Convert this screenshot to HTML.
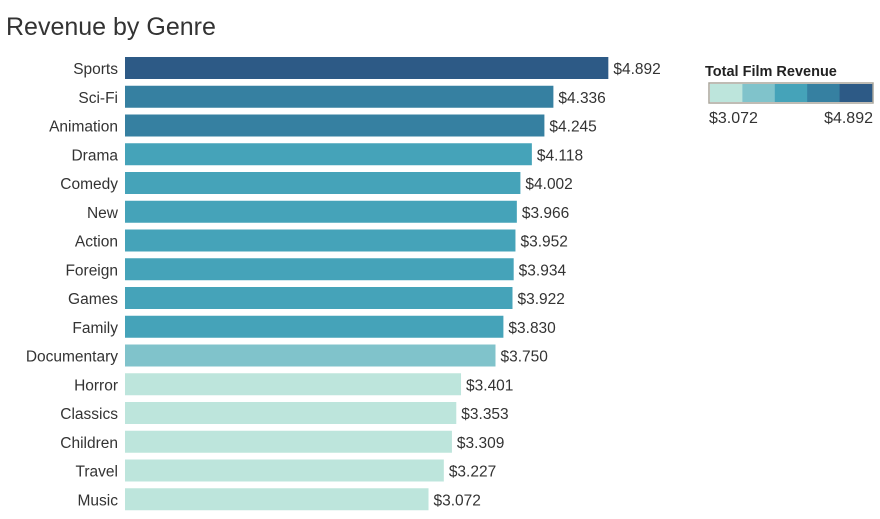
<!DOCTYPE html>
<html><head><meta charset="utf-8"><style>
body{margin:0;background:#fff;font-family:"Liberation Sans",sans-serif;}
svg text{font-family:"Liberation Sans",sans-serif;}
</style></head><body>
<svg id="c" width="880" height="514">
<text x="6" y="35" font-size="25" fill="#333">Revenue by Genre</text>
<g id="bars"></g>
<g id="legend">
<text x="705" y="76" font-size="14.5" font-weight="bold" fill="#222">Total Film Revenue</text>
</g>
</svg>
<script>
const categories=["Sports","Sci-Fi","Animation","Drama","Comedy","New","Action","Foreign","Games","Family","Documentary","Horror","Classics","Children","Travel","Music"];
const revenue=[4.892,4.336,4.245,4.118,4.002,3.966,3.952,3.934,3.922,3.830,3.750,3.401,3.353,3.309,3.227,3.072];
const palette=["#bde5dc","#80c3cb","#45a3b9","#3680a1","#2d5a86"];
const NS="http://www.w3.org/2000/svg";
const x0=125, scale=98.8, y0=57, step=28.75, bh=22;
const xs=v=>x0+v*scale;
const minV=Math.min(...revenue), maxV=Math.max(...revenue);
function colorFor(v){let i=Math.floor((v-minV)/(maxV-minV)*5);if(i>4)i=4;if(i<0)i=0;return palette[i];}
const g=document.getElementById('bars');
categories.forEach((c,i)=>{
  const y=y0+i*step;
  const r=document.createElementNS(NS,'rect');
  r.setAttribute('x',x0);r.setAttribute('y',y);
  r.setAttribute('width',xs(revenue[i])-x0);r.setAttribute('height',bh);
  r.setAttribute('fill',colorFor(revenue[i]));
  
  
  g.appendChild(r);
  const l=document.createElementNS(NS,'text');
  l.setAttribute('x',118);l.setAttribute('y',y+bh/2+6);
  l.setAttribute('text-anchor','end');l.setAttribute('font-size','15.5');l.setAttribute('fill','#333');
  l.textContent=c;
  
  
  g.appendChild(l);
  const t=document.createElementNS(NS,'text');
  t.setAttribute('x',xs(revenue[i])+5);t.setAttribute('y',y+bh/2+6);
  t.setAttribute('font-size','15.5');t.setAttribute('fill','#333');
  t.textContent='$'+revenue[i].toFixed(3);
  
  
  g.appendChild(t);
});
const lg=document.getElementById('legend');
const lx=710,lw=162/5;
palette.forEach((p,i)=>{
  const r=document.createElementNS(NS,'rect');
  r.setAttribute('x',lx+i*lw);r.setAttribute('y',84);r.setAttribute('width',lw+0.5);r.setAttribute('height',18);
  r.setAttribute('fill',p);
  
  
  lg.appendChild(r);
});
const b=document.createElementNS(NS,'rect');
b.setAttribute('x',709);b.setAttribute('y',83);b.setAttribute('width',164);b.setAttribute('height',20);
b.setAttribute('fill','none');b.setAttribute('stroke','#aaa69c');b.setAttribute('stroke-width','1.5');


lg.appendChild(b);
[[709,'start','$'+minV.toFixed(3)],[873,'end','$'+maxV.toFixed(3)]].forEach(a=>{
  const t=document.createElementNS(NS,'text');
  t.setAttribute('x',a[0]);t.setAttribute('y',123);t.setAttribute('text-anchor',a[1]);
  t.setAttribute('font-size','16');t.setAttribute('fill','#333');t.textContent=a[2];
  
  
  lg.appendChild(t);
});
</script>
</body></html>
